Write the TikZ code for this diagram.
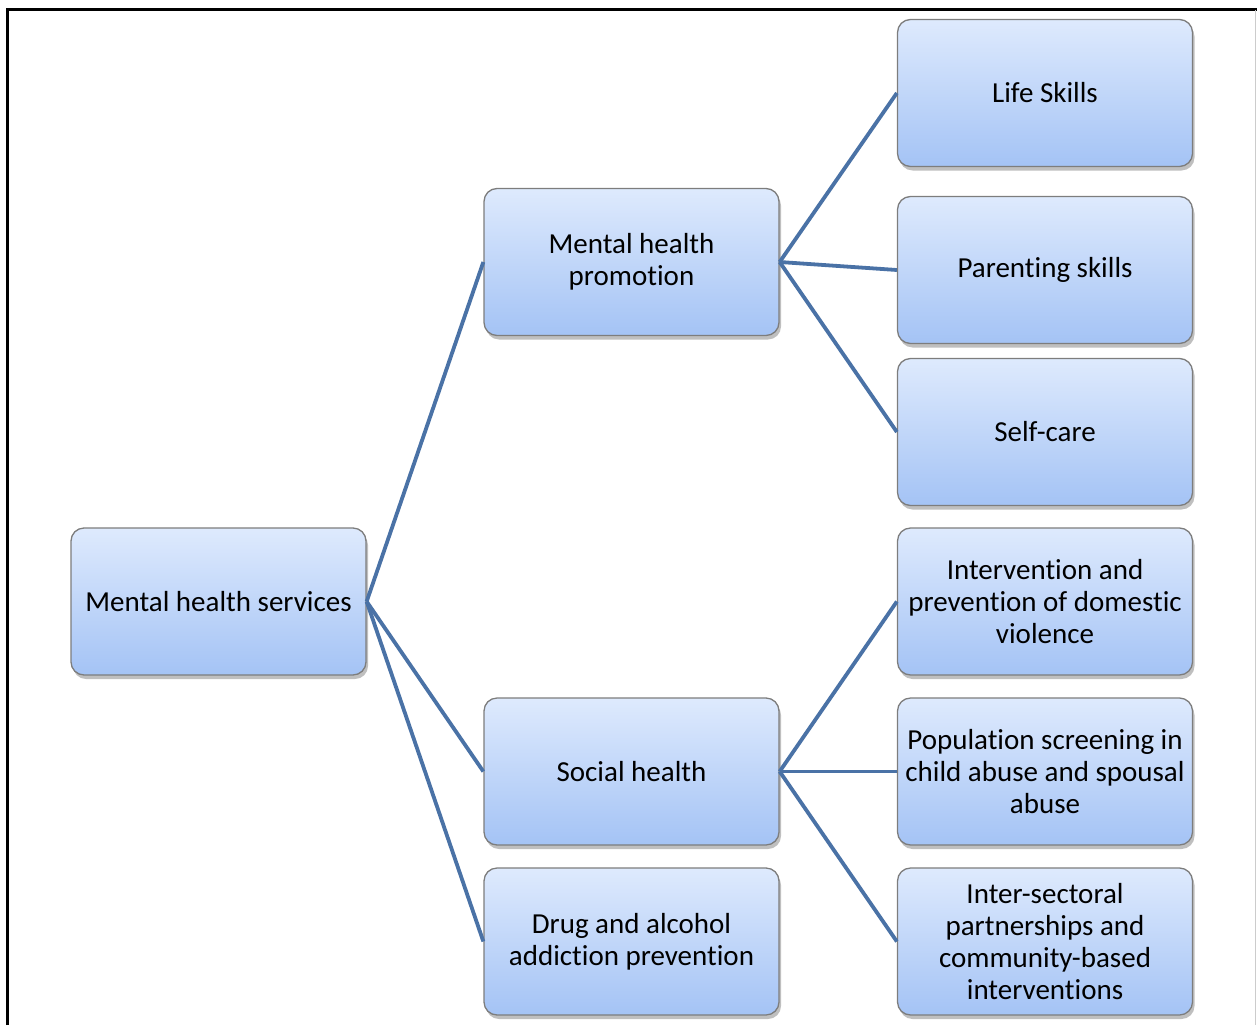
\documentclass[tikz,border=0pt]{standalone}
\usepackage{fontspec}
\setmainfont{Carlito}[Ligatures=NoCommon]
\usetikzlibrary{shadows}
\definecolor{lienbleu}{RGB}{74,114,166}
\definecolor{hautbleu}{RGB}{222,234,253}
\definecolor{basbleu}{RGB}{164,195,245}
\definecolor{bordgris}{RGB}{125,125,125}

\begin{document}
\begin{tikzpicture}[x=1pt, y=-1pt]
\tikzset{boite/.style={draw=bordgris, line width=1.3pt, rounded corners=13pt,
  minimum width=295pt, minimum height=147pt, inner sep=0pt, align=center,
  top color=hautbleu, bottom color=basbleu,
  font=\fontsize{29}{32}\selectfont,
  drop shadow={shadow xshift=2pt, shadow yshift=-4pt, opacity=0.25, fill=black}},
  lien/.style={draw=lienbleu, line width=3.8pt}}
\useasboundingbox (0,0) rectangle (1257,1025);
\draw[line width=3pt] (7,1025) -- (7,10) -- (1257,10);
\draw[line width=1pt, gray!40] (1255.5,10) -- (1255.5,1025);
\node[boite] (MHS) at (218.5,601.5) {Mental health services};
\node[boite] (MHP) at (631.5,262) {Mental health\\promotion};
\node[boite] (SH) at (631.5,771.5) {Social health};
\node[boite] (DA) at (631.5,941.5) {Drug and alcohol\\addiction prevention};
\node[boite] (LS) at (1045,93) {Life Skills};
\node[boite] (PS) at (1045,270) {Parenting skills};
\node[boite] (SC) at (1045,432) {Self-care};
\node[boite] (IP) at (1045,601.5) {Intervention and\\prevention of domestic\\violence};
\node[boite] (PO) at (1045,771.5) {Population screening in\\child abuse and spousal\\abuse};
\node[boite] (IS) at (1045,941.5) {Inter-sectoral\\partnerships and\\community-based\\interventions};
\draw[lien] (MHS.east) -- (MHP.west);
\draw[lien] (MHS.east) -- (SH.west);
\draw[lien] (MHS.east) -- (DA.west);
\draw[lien] (MHP.east) -- (LS.west);
\draw[lien] (MHP.east) -- (PS.west);
\draw[lien] (MHP.east) -- (SC.west);
\draw[lien] (SH.east) -- (IP.west);
\draw[lien] (SH.east) -- (PO.west);
\draw[lien] (SH.east) -- (IS.west);
\end{tikzpicture}
\end{document}
